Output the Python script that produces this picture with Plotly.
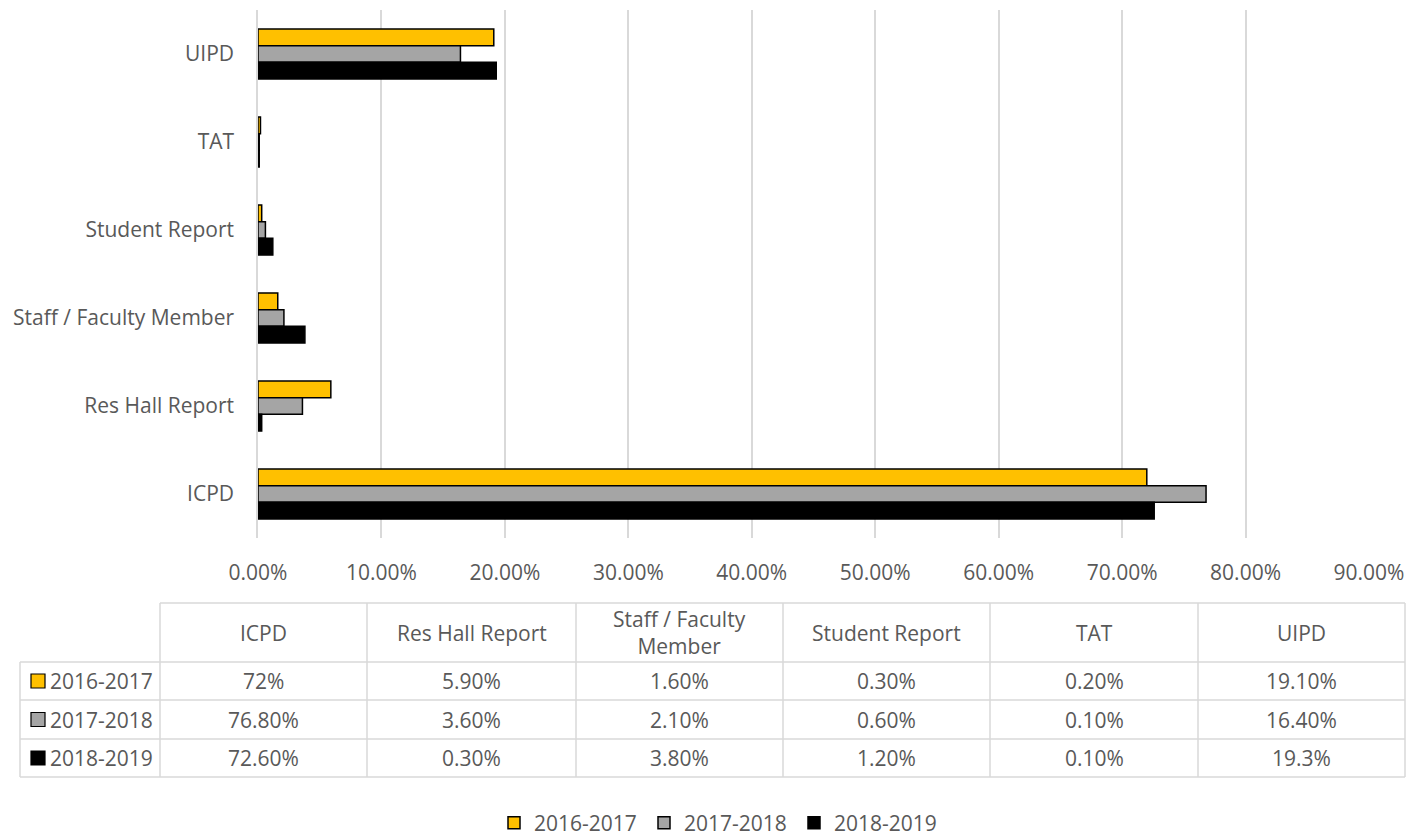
import plotly.graph_objects as go

categories = ["ICPD", "Res Hall Report", "Staff / Faculty Member", "Student Report", "TAT", "UIPD"]
series_names = ["2016-2017", "2017-2018", "2018-2019"]
v2016 = [0.72, 0.059, 0.016, 0.003, 0.002, 0.191]
v2017 = [0.768, 0.036, 0.021, 0.006, 0.001, 0.164]
v2018 = [0.726, 0.003, 0.038, 0.012, 0.001, 0.193]
table_header = ["ICPD", "Res Hall Report", "Staff / Faculty<br>Member", "Student Report", "TAT", "UIPD"]
table_text = [
    ["72%", "5.90%", "1.60%", "0.30%", "0.20%", "19.10%"],
    ["76.80%", "3.60%", "2.10%", "0.60%", "0.10%", "16.40%"],
    ["72.60%", "0.30%", "3.80%", "1.20%", "0.10%", "19.3%"],
]
colors = ["#FFC000", "#A5A5A5", "#000000"]

W, H = 1420, 840
FONT = "Open Sans"
TXT = "#595959"
GRID = "#D9D9D9"
FS = 21

def px(x):
    return x / W

def py(y):
    return 1 - y / H

fig = go.Figure()
for name, vals, c in zip(series_names, [v2016, v2017, v2018], colors):
    fig.add_trace(go.Bar(
        name=name, y=categories, x=vals, orientation="h",
        marker=dict(color=c, line=dict(color="#000000", width=1.5)),
        hoverinfo="x+y",
    ))

fig.update_layout(
    width=W, height=H,
    margin=dict(l=0, r=0, t=0, b=0, autoexpand=False),
    paper_bgcolor="white", plot_bgcolor="white",
    barmode="group", bargap=0.43, bargroupgap=0,
    font=dict(family=FONT, color=TXT, size=FS),
    xaxis=dict(domain=[px(258), px(1369)], range=[0, 0.9], dtick=0.1,
               tickformat=".2%", showgrid=True, gridcolor=GRID, gridwidth=1.5,
               zeroline=False, showline=False, ticks="",
               tickfont=dict(size=FS, color=TXT), ticklabelstandoff=20),
    yaxis=dict(domain=[py(538), py(10)], categoryorder="array",
               categoryarray=categories[::-1], autorange="reversed",
               showline=True, linecolor=GRID, linewidth=1.5, showgrid=False,
               ticks="", tickfont=dict(size=FS, color=TXT), ticklabelstandoff=18),
    legend=dict(orientation="h", x=px(494), xanchor="left", y=py(823), yanchor="middle",
                font=dict(size=FS, color=TXT), itemwidth=30, traceorder="normal",
                entrywidth=105, entrywidthmode="pixels"),
)

# data table drawn below the plot
col_x = [160, 367, 576, 783, 990, 1198, 1405]
row_y = [603, 662, 700, 739, 777]
first_x = 20
shapes = []
lw = 1.5
shapes.append(dict(type="line", xref="paper", yref="paper", x0=px(col_x[0]), x1=px(col_x[-1]),
                   y0=py(row_y[0]), y1=py(row_y[0]), line=dict(color=GRID, width=lw)))
for yy in row_y[1:]:
    shapes.append(dict(type="line", xref="paper", yref="paper", x0=px(first_x), x1=px(col_x[-1]),
                       y0=py(yy), y1=py(yy), line=dict(color=GRID, width=lw)))
shapes.append(dict(type="line", xref="paper", yref="paper", x0=px(first_x), x1=px(first_x),
                   y0=py(row_y[1]), y1=py(row_y[-1]), line=dict(color=GRID, width=lw)))
for xx in col_x:
    shapes.append(dict(type="line", xref="paper", yref="paper", x0=px(xx), x1=px(xx),
                       y0=py(row_y[0]), y1=py(row_y[-1]), line=dict(color=GRID, width=lw)))

annotations = []
for j, h in enumerate(table_header):
    cx = (col_x[j] + col_x[j + 1]) / 2
    cy = (row_y[0] + row_y[1]) / 2
    annotations.append(dict(x=px(cx), y=py(cy), xref="paper", yref="paper", text=h,
                            xanchor="center", yanchor="middle",
                            showarrow=False, font=dict(size=FS, color=TXT), align="center"))
for i, row in enumerate(table_text):
    cy = (row_y[i + 1] + row_y[i + 2]) / 2
    for j, t in enumerate(row):
        cx = (col_x[j] + col_x[j + 1]) / 2
        annotations.append(dict(x=px(cx), y=py(cy), xref="paper", yref="paper", text=t,
                                xanchor="center", yanchor="middle",
                                showarrow=False, font=dict(size=FS, color=TXT)))
    kx0, kx1 = 31, 45
    shapes.append(dict(type="rect", xref="paper", yref="paper", x0=px(kx0), x1=px(kx1),
                       y0=py(cy + 7), y1=py(cy - 7), fillcolor=colors[i],
                       line=dict(color="#000000", width=1.2)))
    annotations.append(dict(x=px(48), y=py(cy), xref="paper", yref="paper", text=series_names[i],
                            xanchor="left", yanchor="middle",
                            showarrow=False, font=dict(size=FS, color=TXT)))

fig.update_layout(shapes=shapes, annotations=annotations)
fig.write_html("out.html", config={"displayModeBar": False},
               post_script="document.body.style.margin='0';document.body.style.overflow='hidden';")
